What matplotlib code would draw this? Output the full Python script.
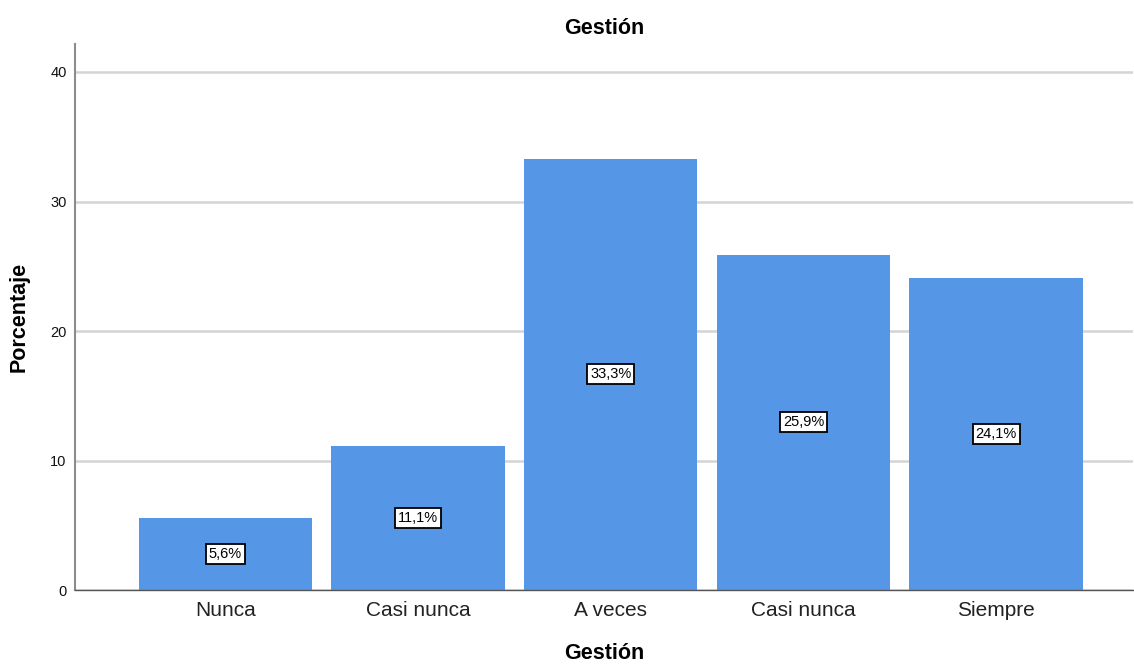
import numpy as np
import matplotlib.pyplot as plt

plt.rcParams['font.family'] = ['Liberation Sans', 'DejaVu Sans']

categorias = ['Nunca', 'Casi nunca', 'A veces', 'Casi nunca', 'Siempre']
porcentajes = [5.6, 11.1, 33.3, 25.9, 24.1]
etiquetas = ['5,6%', '11,1%', '33,3%', '25,9%', '24,1%']
y_ticks = [0, 10, 20, 30, 40]

fig = plt.figure(figsize=(11.34, 6.64), dpi=100)
ax = fig.add_axes([0.0661, 0.1114, 0.9330, 0.8223])

x = np.arange(len(categorias))
ax.bar(x, porcentajes, width=0.9, color='#5596E6', zorder=2)

# etiquetas de valor en el centro de cada barra
for xi, v, lab in zip(x, porcentajes, etiquetas):
    ax.text(xi, v / 2, lab, ha='center', va='center', fontsize=10.5, color='black',
            bbox=dict(boxstyle='square,pad=0.2', facecolor='white',
                      edgecolor='black', linewidth=1.3), zorder=3)

ax.set_xlim(-0.78, 4.71)
ax.set_ylim(0, 42.16)
ax.set_xticks(x)
ax.set_xticklabels(categorias, fontsize=15, color='#222222')
ax.set_yticks(y_ticks)
ax.set_yticklabels([str(t) for t in y_ticks], fontsize=10.5, color='#111111')
ax.tick_params(axis='x', length=0, pad=8)
ax.tick_params(axis='y', length=0, pad=6)

ax.grid(axis='y', color='#d4d4d4', linewidth=1.8, zorder=0)
ax.set_axisbelow(True)
for s in ['top', 'right']:
    ax.spines[s].set_visible(False)
ax.spines['left'].set_color('#8c8c8c')
ax.spines['left'].set_linewidth(1.5)
ax.spines['bottom'].set_color('#555555')
ax.spines['bottom'].set_linewidth(1.0)

ax.set_title('Gestión', fontsize=15.5, fontweight='bold', pad=7)
ax.set_xlabel('Gestión', fontsize=15.5, fontweight='bold', labelpad=16.5)
ax.set_ylabel('Porcentaje', fontsize=15.5, fontweight='bold', labelpad=14.5)

fig.savefig('out.png', dpi=100)
